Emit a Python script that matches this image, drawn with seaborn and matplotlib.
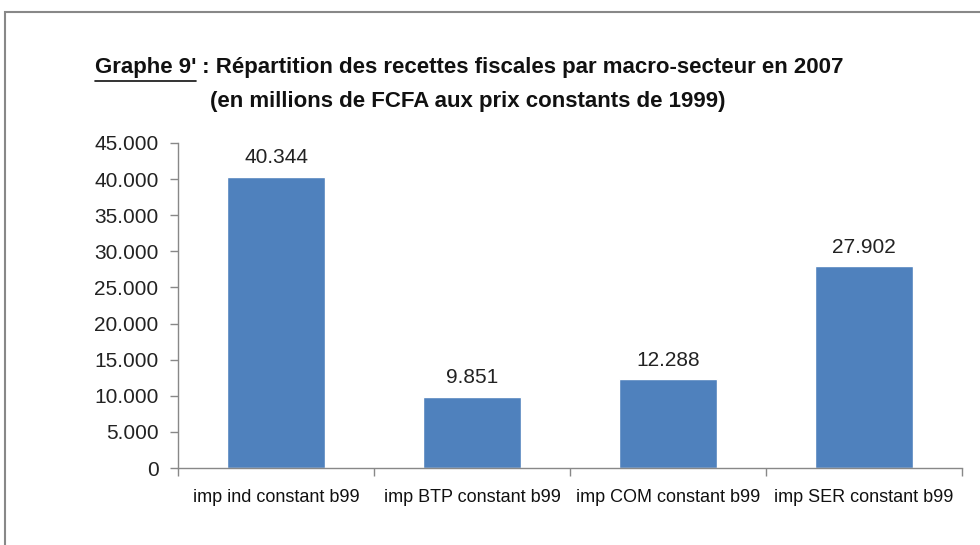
import matplotlib
matplotlib.use("Agg")
import matplotlib.pyplot as plt
import seaborn as sns
import pandas as pd
from matplotlib.patches import Rectangle
from matplotlib.lines import Line2D
from matplotlib.ticker import FuncFormatter, FixedLocator

# data
categories = ["imp ind constant b99", "imp BTP constant b99",
              "imp COM constant b99", "imp SER constant b99"]
values = [40344, 9851, 12288, 27902]
yticks = [0, 5000, 10000, 15000, 20000, 25000, 30000, 35000, 40000, 45000]

df = pd.DataFrame({"secteur": categories, "recettes": values})

sns.set_theme(style="white")
plt.rcParams["font.family"] = ["Liberation Sans", "DejaVu Sans"]

W, H = 980, 545
fig = plt.figure(figsize=(W / 100, H / 100), dpi=100)
ax = fig.add_axes([178 / W, 1 - 468 / H, (962 - 178) / W, (468 - 143) / H])

sns.barplot(data=df, x="secteur", y="recettes", color="#4F81BD",
            width=0.5, saturation=1, ax=ax)

def fmt(v):
    return f"{int(v):,}".replace(",", ".")

ax.set_ylim(0, 45000)
ax.set_xlim(-0.5, 3.5)
ax.yaxis.set_major_locator(FixedLocator(yticks))
ax.yaxis.set_major_formatter(FuncFormatter(lambda v, p: fmt(v)))
ax.set_xlabel("")
ax.set_ylabel("")

for s in ["top", "right"]:
    ax.spines[s].set_visible(False)
for s in ["left", "bottom"]:
    ax.spines[s].set_color("#888888")
    ax.spines[s].set_linewidth(1)

ax.tick_params(axis="y", which="major", direction="out", length=6,
               width=1, color="#888888", labelsize=15, labelcolor="#222222", pad=8, left=True)
ax.tick_params(axis="x", which="major", length=0, pad=15)
ax.set_xticks(range(len(categories)))
ax.set_xticklabels(categories, fontsize=13, color="#111111")
# category separator ticks
ax.set_xticks([-0.5, 0.5, 1.5, 2.5, 3.5], minor=True)
ax.tick_params(axis="x", which="minor", direction="out", length=6,
               width=1, color="#888888", bottom=True)

for i, v in enumerate(values):
    ax.annotate(fmt(v), (i, v), xytext=(0, 7), textcoords="offset points",
                ha="center", va="bottom", fontsize=15, color="#222222")

# outer frame (cut off at right and bottom like the reference)
fig.patches.append(Rectangle((5 / W, -0.1), 1.2, 1 - 12 / H + 0.1,
                             transform=fig.transFigure, fill=False,
                             edgecolor="#888888", linewidth=1.5))

# title with underlined prefix
fig.canvas.draw()
r = fig.canvas.get_renderer()
t1 = fig.text(95 / W, 1 - 68 / H, "Graphe 9'", fontsize=16, fontweight="bold",
              color="#111111", va="center", ha="left")
bb = t1.get_window_extent(r).transformed(fig.transFigure.inverted())
fig.text(bb.x1, 1 - 68 / H, " : Répartition des recettes fiscales par macro-secteur en 2007",
         fontsize=16, fontweight="bold", color="#111111", va="center", ha="left")
fig.lines.append(Line2D([bb.x0, bb.x1], [bb.y0 - 0.004, bb.y0 - 0.004],
                        transform=fig.transFigure, color="#111111", linewidth=1.2))
fig.text(468 / W, 1 - 101 / H, "(en millions de FCFA aux prix constants de 1999)",
         fontsize=16, fontweight="bold", color="#111111", va="center", ha="center")

fig.savefig("out.png", dpi=100, facecolor="white")
